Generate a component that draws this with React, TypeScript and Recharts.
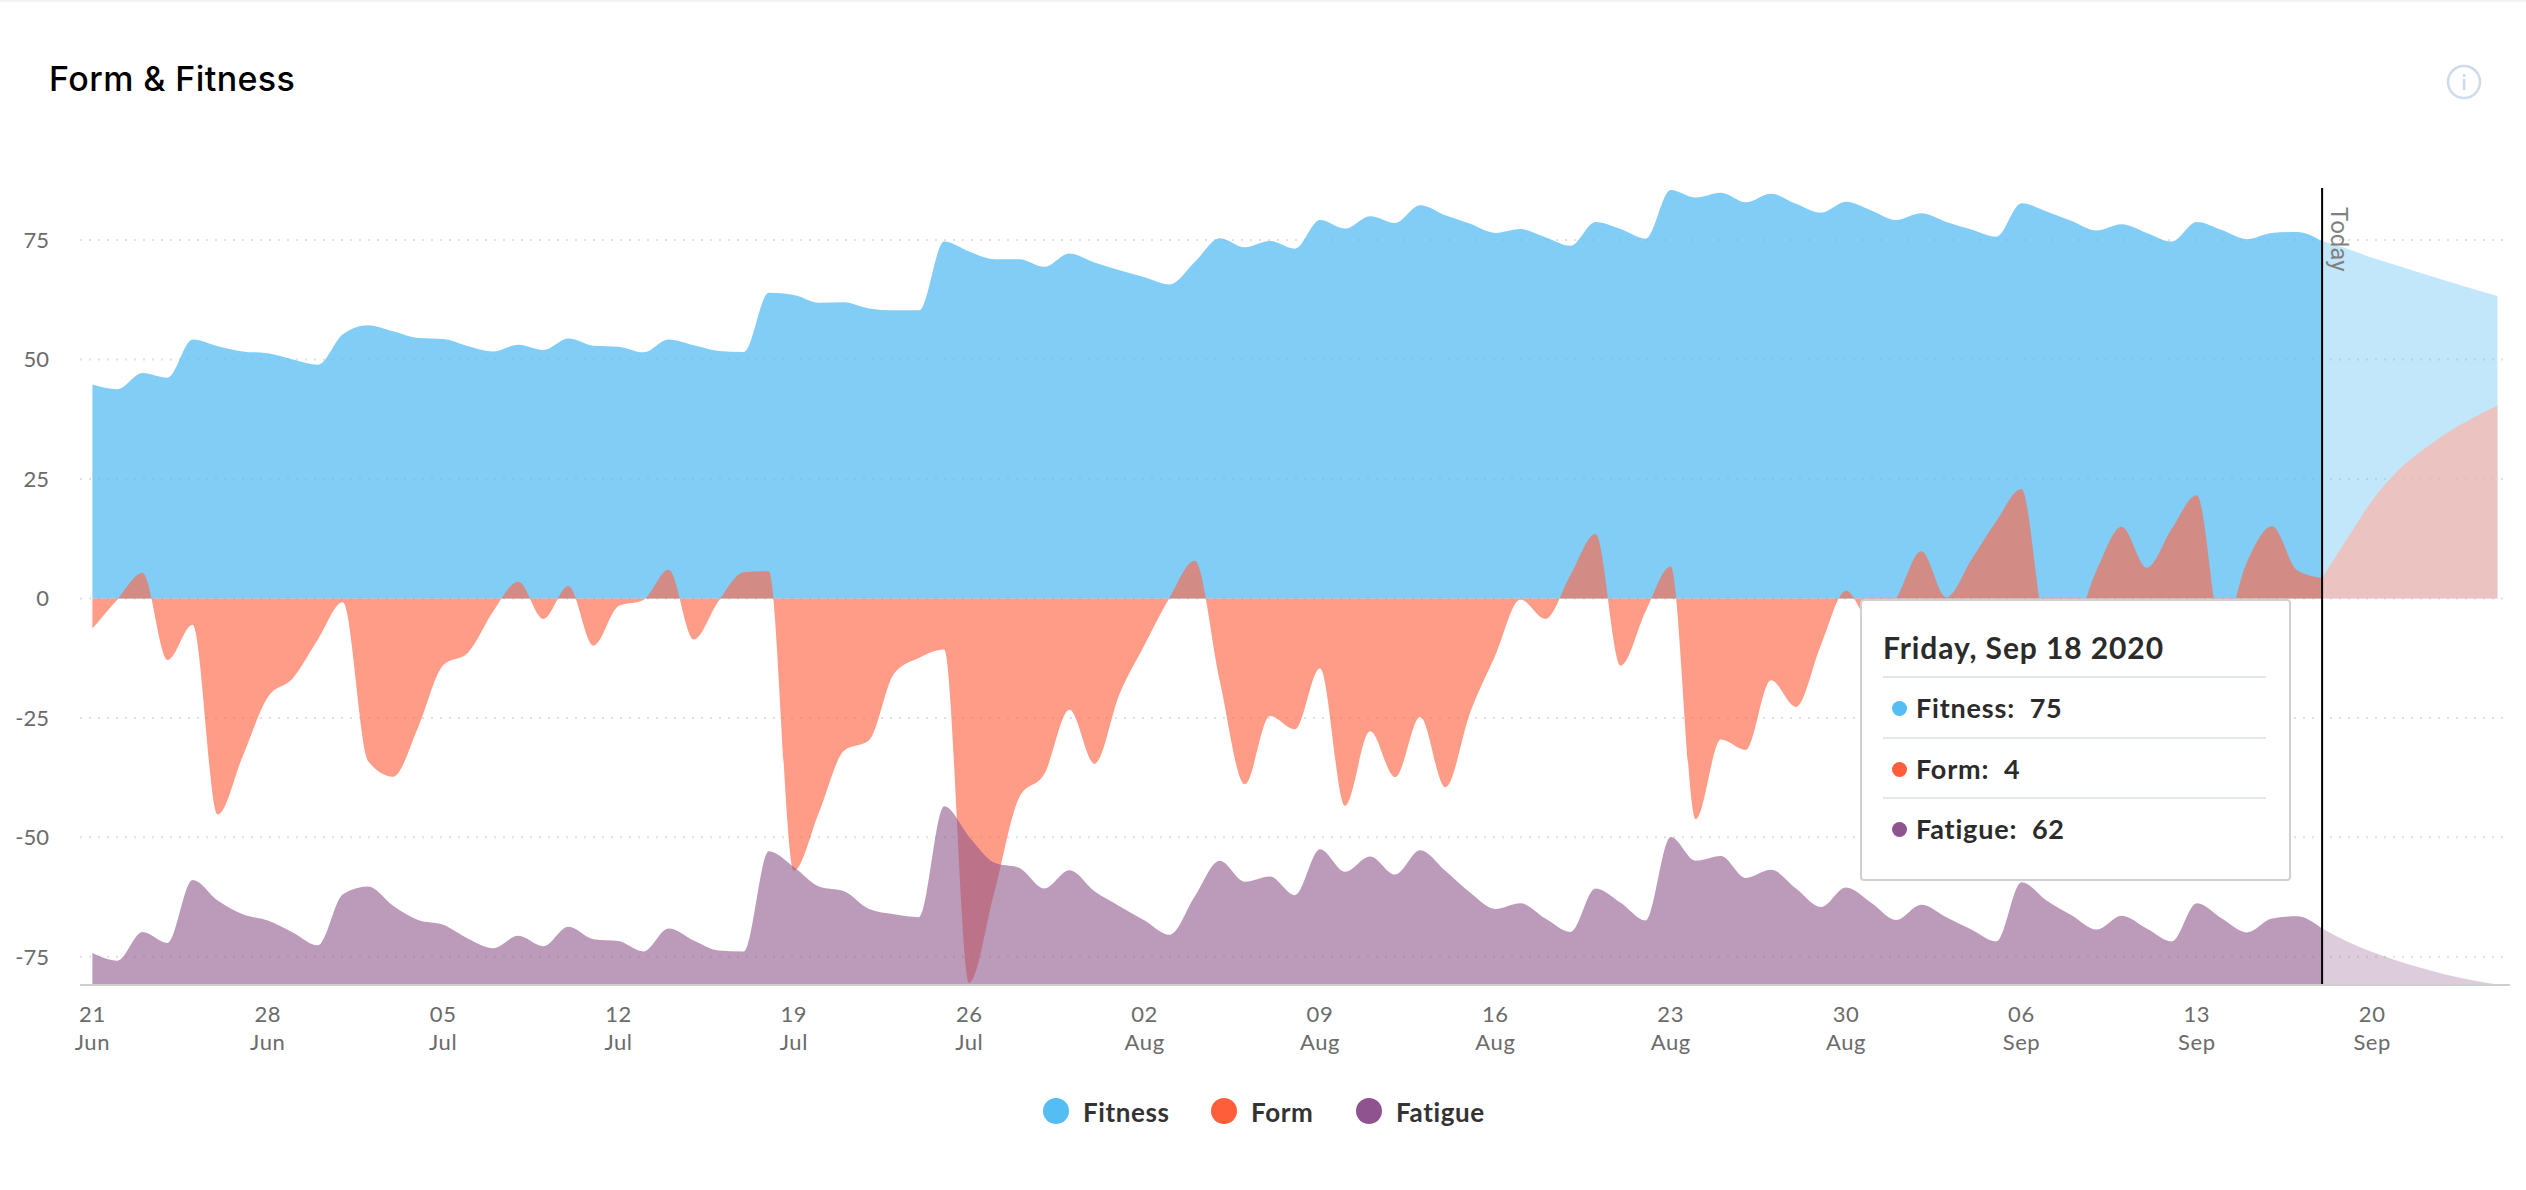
// Form & Fitness chart: daily training load, with a forecast after today
import { AreaChart, Area, XAxis, YAxis, CartesianGrid, ReferenceLine } from 'recharts';

const fitness = [
  44.8, 43.8, 47.2, 46.2, 54.2, 52.8, 51.7, 51.3, 50, 48.9, 55.3, 57.2, 55.9, 54.5, 54.3, 52.8,
  51.7, 53.1, 52, 54.4, 52.9, 52.7, 51.5, 54.2, 53, 51.8, 51.6, 64, 63.5, 61.9, 62, 60.7,
  60.3, 60.3, 74.7, 72.6, 71, 71, 69.4, 72.2, 70.3, 68.7, 67.2, 65.7, 70.4, 75.4, 73.5, 74.8,
  73.2, 79.2, 77.4, 80, 78.6, 82.3, 80.2, 78.4, 76.5, 77.3, 75.6, 73.8, 78.8, 77.3, 75.3, 85.5,
  83.9, 84.9, 82.9, 84.7, 82.6, 80.7, 83, 81.2, 79.2, 80.6, 78.8, 77.2, 75.7, 82.7, 81, 79,
  77, 78.3, 76.5, 74.7, 78.8, 77.1, 75.2, 76.5, 76.7, 74.8,
];
const form = [
  -6.3, -0.2, 5.3, -12.9, -5.5, -45.2, -33, -20.7, -16.7, -8.6, -0.8, -34, -37.3, -27, -14, -11.3,
  -2.7, 3.5, -4.3, 2.6, -9.9, -1.6, -0.3, 6, -8.6, -0.5, 5.5, 5.7, -57, -44.8, -31.9, -29.7,
  -15.7, -12.4, -10.7, -80.5, -61.5, -41.6, -36.7, -23.3, -34.6, -20, -9.7, 0.2, 7.9, -17.3, -38.9, -24.6,
  -27.4, -14.6, -43.4, -27.8, -37.4, -24.8, -39.5, -23.8, -11.9, -0.2, -4.3, 4.9, 13.5, -14.1, -2.7, 6.7,
  -46.2, -29.5, -31.7, -17.1, -22.7, -9.7, 1.6, -5, 0, 9.9, 0.2, 8.1, 16.2, 22.9, -6, -6,
  5.9, 15, 6.4, 14.6, 21.6, -7, 7.6, 15.1, 5.9, 4.3,
];
const fatigue = [
  -74.2, -75.8, -69.8, -72.1, -58.9, -63.2, -66.1, -67.4, -69.9, -72.6, -61.9, -60.3, -64.3, -67.3, -68.3, -71.2,
  -73.2, -70.6, -72.8, -68.7, -71.3, -71.7, -73.9, -69.1, -71.6, -73.7, -73.9, -52.9, -56.2, -60.3, -61.3, -65,
  -66.1, -66.7, -43.5, -49.9, -55.3, -56.4, -60.7, -56.9, -61.3, -64.4, -67.4, -70.4, -62.4, -54.9, -59.3, -58.2,
  -62.1, -52.5, -57.2, -54, -57.8, -52.7, -57, -61.6, -65, -63.8, -67, -69.8, -60.7, -63.7, -67.4, -49.9,
  -54.9, -53.9, -58.5, -56.8, -60.7, -64.6, -60.5, -63.7, -67.3, -64.1, -66.7, -69.3, -71.8, -59.4, -63.2, -66.3,
  -69.3, -66.4, -69.1, -71.8, -63.8, -67, -69.9, -67, -66.5, -69.1,
];

// forecast starts on today's value
const fitnessForecast = [74.8, 73.2, 71.3, 69.7, 68, 66.4, 64.8, 63.3];
const formForecast = [4.3, 12.5, 20.5, 26.6, 31, 34.7, 37.7, 40.4];
const fatigueForecast = [-69.1, -71.8, -74, -75.8, -77.4, -78.8, -79.9, -80.8];

const TODAY = fitness.length - 1;

const yTicks = [-75, -50, -25, 0, 25, 50, 75];
const xTicks = [0, 7, 14, 21, 28, 35, 42, 49, 56, 63, 70, 77, 84, 91];
const xDays = ['21', '28', '05', '12', '19', '26', '02', '09', '16', '23', '30', '06', '13', '20'];
const xMonths = ['Jun', 'Jun', 'Jul', 'Jul', 'Jul', 'Jul', 'Aug', 'Aug', 'Aug', 'Aug', 'Aug', 'Sep', 'Sep', 'Sep'];

const legendItems = [
  { name: 'Fitness', color: '#54BDF3', value: '75' },
  { name: 'Form', color: '#FF5E3A', value: '4' },
  { name: 'Fatigue', color: '#8F548F', value: '62' },
];

const chartData = Array.from({ length: TODAY + fitnessForecast.length }, (_, i) => {
  const f = i - TODAY;
  return {
    day: i,
    fitness: fitness[i] ?? null,
    form: form[i] ?? null,
    fatigue: fatigue[i] ?? null,
    fitnessForecast: fitnessForecast[f] ?? null,
    formForecast: formForecast[f] ?? null,
    fatigueForecast: fatigueForecast[f] ?? null,
  };
});

const FONT = 'Lato, sans-serif';

function DateTick({ x, y, payload }: any) {
  const i = xTicks.indexOf(payload.value);
  return (
    <text x={x} textAnchor="middle" fontFamily={FONT} fontSize={22} fill="#6b6b6b" letterSpacing={0.6}>
      <tspan x={x} y={y + 29}>{xDays[i]}</tspan>
      <tspan x={x} y={y + 57}>{xMonths[i]}</tspan>
    </text>
  );
}

function TodayLabel({ viewBox }: any) {
  const x = viewBox.x + 9;
  const y = viewBox.y + 19;
  return (
    <text x={x} y={y} transform={`rotate(90 ${x} ${y})`} fontFamily="Roboto, sans-serif" fontSize={24} fill="#808080">
      Today
    </text>
  );
}

function TooltipBox() {
  return (
    <div
      style={{
        position: 'absolute',
        left: 1860,
        top: 599,
        width: 431,
        height: 282,
        boxSizing: 'border-box',
        background: '#fff',
        border: '2px solid #d0d0d0',
        borderRadius: 4,
        fontFamily: FONT,
        color: '#2b2b2b',
      }}
    >
      <div style={{ position: 'absolute', left: 21, top: 26, fontSize: 30, fontWeight: 700, lineHeight: '40px', letterSpacing: 0.9, whiteSpace: 'nowrap' }}>
        Friday, Sep 18 2020
      </div>
      {legendItems.map((item, i) => (
        <div key={item.name}>
          <div style={{ position: 'absolute', left: 21, width: 383, top: 75 + i * 60.5, height: 2, background: '#e3e7ea' }} />
          <div style={{ position: 'absolute', left: 30, top: 100 + i * 60.5, width: 15, height: 15, borderRadius: '50%', background: item.color }} />
          <div style={{ position: 'absolute', left: 54, top: 88 + i * 60.5, fontSize: 27, fontWeight: 700, lineHeight: '38px', letterSpacing: 0.8, whiteSpace: 'pre' }}>
            {item.name}:  {item.value}
          </div>
        </div>
      ))}
    </div>
  );
}

function LegendRow() {
  const left = [1043, 1211, 1356];
  return (
    <>
      {legendItems.map((item, i) => (
        <div key={item.name}>
          <div style={{ position: 'absolute', left: left[i], top: 1098, width: 26, height: 26, borderRadius: '50%', background: item.color }} />
          <div style={{ position: 'absolute', left: left[i] + 40, top: 1093, fontFamily: FONT, fontSize: 26, fontWeight: 700, lineHeight: '38px', letterSpacing: 0.6, color: '#333' }}>
            {item.name}
          </div>
        </div>
      ))}
    </>
  );
}

function InfoIcon() {
  return (
    <svg style={{ position: 'absolute', left: 2446, top: 64 }} width={36} height={36} viewBox="0 0 36 36">
      <circle cx={18} cy={18} r={16} fill="none" stroke="#cfdbe8" strokeWidth={2.5} />
      <rect x={16.8} y={15} width={2.6} height={11} fill="#cfdbe8" />
      <rect x={16.8} y={10} width={2.6} height={3} fill="#cfdbe8" />
    </svg>
  );
}

export default function App() {
  return (
    <div style={{ position: 'absolute', left: 0, top: 0, width: 2526, height: 1190, background: '#fff', overflow: 'hidden' }}>
      <div style={{ position: 'absolute', left: 0, top: 0, width: 2526, height: 2, background: '#f2f2f2' }} />
      <div style={{ position: 'absolute', left: 49, top: 57, fontFamily: 'Inter, sans-serif', fontSize: 34, fontWeight: 500, lineHeight: '44px', letterSpacing: 0.4, color: '#000' }}>
        Form &amp; Fitness
      </div>
      <InfoIcon />
      <AreaChart width={2526} height={1190} data={chartData} margin={{ top: 188, right: 16, bottom: 145, left: 0 }}>
        <CartesianGrid vertical={false} horizontalValues={yTicks} stroke="#e0e0e0" strokeWidth={2} strokeDasharray="2 7" />
        <XAxis
          dataKey="day"
          type="number"
          domain={[-0.495, 96.5]}
          ticks={xTicks}
          interval={0}
          allowDataOverflow
          height={60}
          tick={<DateTick />}
          tickLine={false}
          axisLine={{ stroke: '#cfcfcf', strokeWidth: 2 }}
        />
        <YAxis
          type="number"
          domain={[-80.9, 85.9]}
          ticks={yTicks}
          interval={0}
          allowDataOverflow
          width={80}
          tick={{ fill: '#6b6b6b', fontSize: 22, fontFamily: FONT }}
          tickSize={0}
          tickMargin={31}
          tickLine={false}
          axisLine={false}
        />
        <ReferenceLine x={TODAY} stroke="none" label={<TodayLabel />} />
        <Area dataKey="fitness" type="monotone" baseValue={0} stroke="none" fill="#57BCF2" fillOpacity={0.75} isAnimationActive={false} />
        <Area dataKey="form" type="monotone" baseValue={0} stroke="none" fill="#FF6748" fillOpacity={0.65} isAnimationActive={false} />
        <Area dataKey="fatigue" type="monotone" baseValue={-80.9} stroke="none" fill="#8F578A" fillOpacity={0.6} isAnimationActive={false} />
        <Area dataKey="fitnessForecast" type="monotone" baseValue={0} stroke="none" fill="#57BCF2" fillOpacity={0.36} isAnimationActive={false} />
        <Area dataKey="formForecast" type="monotone" baseValue={0} stroke="none" fill="#FCB5A8" fillOpacity={0.7} isAnimationActive={false} />
        <Area dataKey="fatigueForecast" type="monotone" baseValue={-80.9} stroke="none" fill="#8F578A" fillOpacity={0.3} isAnimationActive={false} />
        <ReferenceLine x={TODAY} stroke="#000" strokeWidth={2} />
      </AreaChart>
      <TooltipBox />
      <LegendRow />
    </div>
  );
}
